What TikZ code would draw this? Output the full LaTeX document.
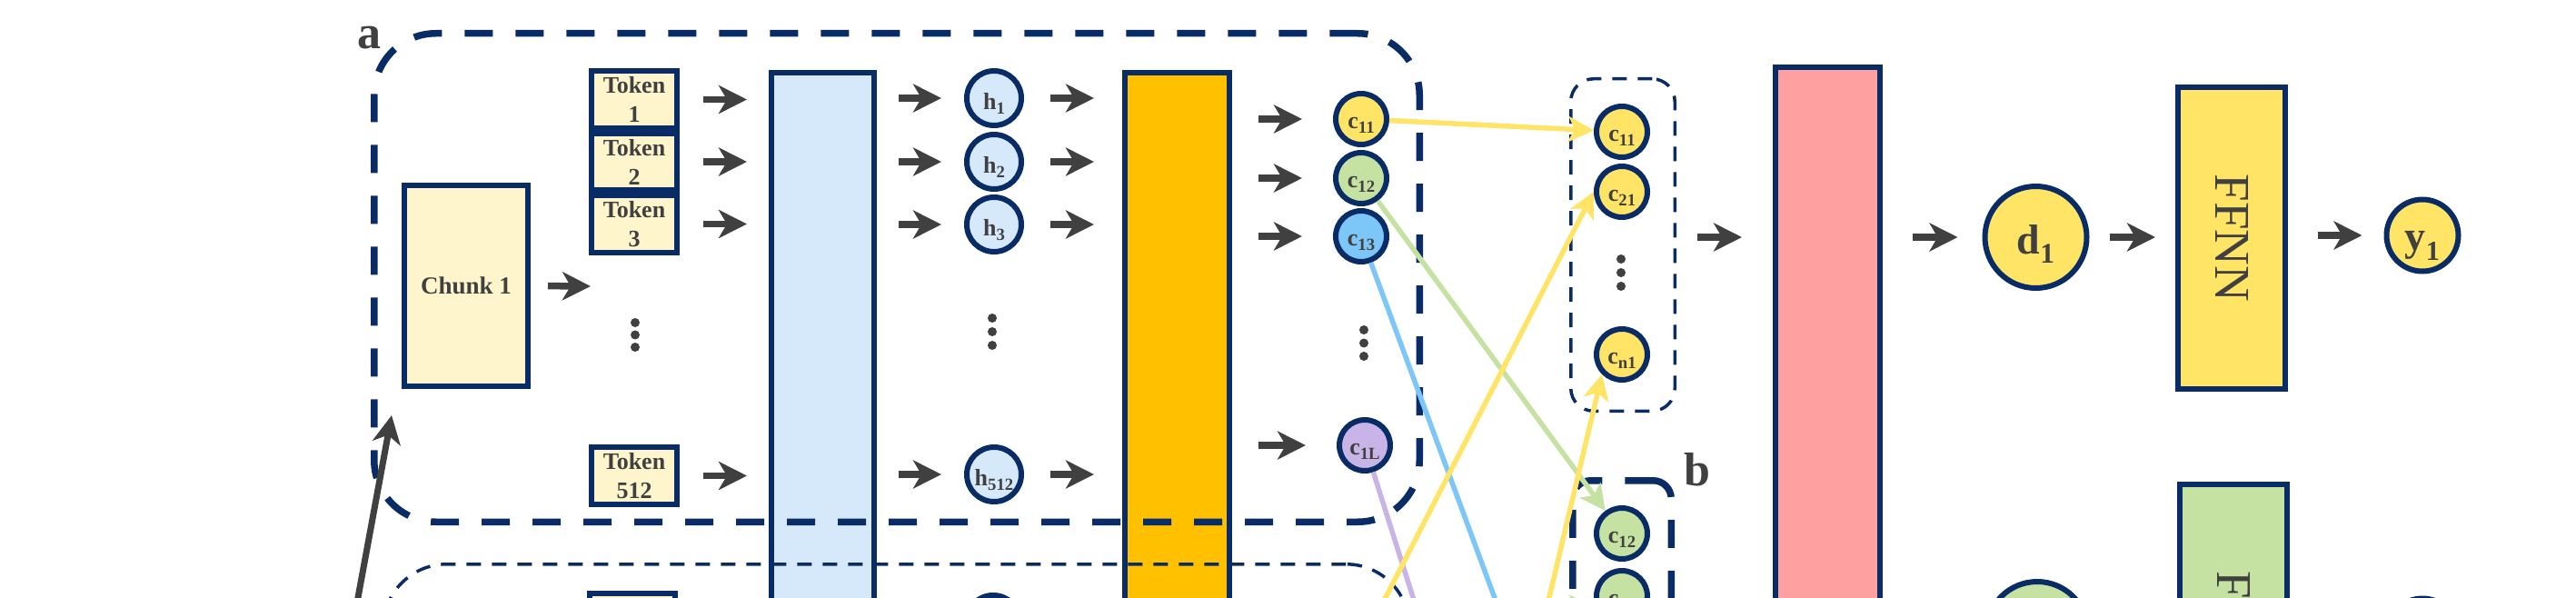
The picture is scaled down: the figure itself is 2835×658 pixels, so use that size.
\documentclass[tikz,border=0pt]{standalone}
\usepackage{fontspec}
\usepackage{graphicx}
\setmainfont{Liberation Serif}
\usetikzlibrary{arrows.meta}
\definecolor{navy}{HTML}{0A2C66}
\definecolor{txt}{HTML}{404040}
\definecolor{tokfill}{HTML}{FFF5CC}
\definecolor{hblue}{HTML}{D5E9FB}
\definecolor{orng}{HTML}{FFC000}
\definecolor{pnk}{HTML}{FFA0A0}
\definecolor{yel}{HTML}{FFE466}
\definecolor{grn}{HTML}{C6E2A2}
\definecolor{cblu}{HTML}{7DC6F8}
\definecolor{lav}{HTML}{C8B4E6}
\newcommand{\sbb}[3]{\raisebox{-#2}{\scalebox{#1}{#3}}}
\begin{document}
\begin{tikzpicture}[x=1pt,y=-1pt,
  bord/.style={draw=navy, line width=6pt},
  tokbox/.style={bord, fill=tokfill, minimum width=94pt, minimum height=62.5pt, inner sep=0pt, align=center, font=\bfseries\fontsize{26}{32}\selectfont, text=txt},
  barbox/.style={bord, anchor=north, minimum height=1300pt, inner sep=0pt},
  hc/.style={bord, circle, fill=hblue, minimum size=60pt, inner sep=0pt, font=\bfseries\fontsize{26}{30}\selectfont, text=txt, text height=25pt, text depth=0pt},
  cc/.style={bord, circle, minimum size=56pt, inner sep=0pt, font=\bfseries\fontsize{26}{30}\selectfont, text=txt, text height=21pt, text depth=0pt},
  garrow/.style={draw=txt, line width=7.5pt, -{Stealth[length=31pt,width=31pt,inset=9pt]}},
  carrow/.style={line width=5.5pt, -{Stealth[length=28pt,width=28pt,inset=7pt]}},
  cline/.style={line width=5.5pt},
  thickdash/.style={draw=navy, line width=7.5pt, dash pattern=on 31pt off 25pt, inner sep=0pt},
  thindash/.style={draw=navy, line width=3.5pt, dash pattern=on 16pt off 12pt, inner sep=0pt},
  lbl/.style={font=\bfseries\fontsize{52}{52}\selectfont, text=txt, inner sep=0pt},
  ffnn/.style={bord, minimum width=118pt, minimum height=332pt, inner sep=0pt, font=\fontsize{55}{60}\selectfont, text=txt}
]
\useasboundingbox (0,0) rectangle (2835,658);
\clip (0,0) rectangle (2835,658);

% bars
\node[barbox, fill=hblue, minimum width=113pt] (blue) at (905.5,77) {};
\node[barbox, fill=orng, minimum width=115pt] (orange) at (1295.5,77) {};
\node[barbox, fill=pnk, minimum width=115pt] (pink) at (2011.5,71) {};

% dashed group boxes
\node[thickdash, rounded corners=68pt, minimum width=1150.5pt, minimum height=537.5pt] (boxa) at (987,305.5) {};
\node[thindash, rounded corners=70pt, minimum width=1129.5pt, minimum height=577.5pt] (boxa2) at (986.5,909.5) {};
\node[thindash, rounded corners=25pt, minimum width=114.5pt, minimum height=365.5pt] (col2) at (1786,269.5) {};
\node[thickdash, rounded corners=20pt, minimum width=108.5pt, minimum height=567.5pt] (boxb) at (1785,812.5) {};

\node[lbl] (la) at (406,42) {a};
\node[lbl] (lb) at (1868,517) {b};

% chunk and tokens
\node[bord, fill=tokfill, minimum width=136pt, minimum height=221pt, inner sep=0pt, font=\bfseries\fontsize{27}{30}\selectfont, text=txt] (chunk) at (513,314.5) {Chunk 1};
\node[tokbox] (t1) at (698,109.5) {Token\\1};
\node[tokbox] (t2) at (698,178) {Token\\2};
\node[tokbox] (t3) at (698,246.5) {Token\\3};
\node[tokbox] (t4) at (698,523.5) {Token\\512};
\node[tokbox] (t5) at (695.5,684) {};
\fill[txt] (699,355) circle (5pt) (699,368.5) circle (5pt) (699,382) circle (5pt);

% h circles
\node[hc] (h1) at (1094,108) {h\sbb{0.72}{0.2em}{1}};
\node[hc] (h2) at (1094,178) {h\sbb{0.72}{0.2em}{2}};
\node[hc] (h3) at (1094,247) {h\sbb{0.72}{0.2em}{3}};
\node[hc] (h4) at (1094,522) {h\sbb{0.72}{0.2em}{512}};
\node[hc] (h5) at (1093,685) {};
\fill[txt] (1092,350) circle (5pt) (1092,365) circle (5pt) (1092,380) circle (5pt);

% c column 1
\node[cc, fill=yel] (c11) at (1498,131) {c\sbb{0.72}{0.2em}{11}};
\node[cc, fill=grn] (c12) at (1498,196) {c\sbb{0.72}{0.2em}{12}};
\node[cc, fill=cblu] (c13) at (1498,260) {c\sbb{0.72}{0.2em}{13}};
\node[cc, fill=lav] (c1L) at (1502,490) {c\sbb{0.72}{0.2em}{1L}};
\fill[txt] (1501,363) circle (5pt) (1501,377.5) circle (5pt) (1501,392) circle (5pt);

% c column 2
\node[cc, fill=yel] (c11b) at (1785,145) {c\sbb{0.72}{0.2em}{11}};
\node[cc, fill=yel] (c21b) at (1785,211) {c\sbb{0.72}{0.2em}{21}};
\node[cc, fill=yel] (cn1b) at (1785,390) {c\sbb{0.72}{0.2em}{n1}};
\fill[txt] (1784,285) circle (5pt) (1784,300) circle (5pt) (1784,315) circle (5pt);
\node[cc, fill=grn] (c12b) at (1785,587) {c\sbb{0.72}{0.2em}{12}};
\node[cc, fill=grn] (c22b) at (1785,656) {c\sbb{0.72}{0.2em}{22}};

% right part
\node[bord, circle, fill=yel, minimum size=112pt, inner sep=0pt, font=\bfseries\fontsize{46}{50}\selectfont, text=txt, text height=36pt, text depth=0pt] (d1) at (2240.5,261) {d\sbb{0.68}{0.23em}{1}};
\node[bord, circle, fill=grn, minimum size=112pt, inner sep=0pt] (d2) at (2242,696) {};
\node[ffnn, fill=yel] (f1) at (2456,262) {\rotatebox{-90}{FFNN}};
\node[ffnn, fill=grn] (f2) at (2458,699) {\rotatebox{-90}{FFNN}};
\node[bord, circle, fill=yel, minimum size=79pt, inner sep=0pt, font=\bfseries\fontsize{46}{50}\selectfont, text=txt, text height=32pt, text depth=0pt] (y1) at (2666,259) {y\sbb{0.66}{0.25em}{1}};
\node[bord, circle, fill=grn, minimum size=79pt, inner sep=0pt] (y2) at (2666,698) {};

% gray arrows
\coordinate (chk) at (650,315);
\draw[garrow, shorten <=19pt] (chunk.east) -- (chk);
\foreach \t in {t1,t2,t3,t4}{
  \draw[garrow, shorten <=26pt, shorten >=24pt] (\t.east) -- (\t.east -| blue.west);
}
\foreach \h in {h1,h2,h3,h4}{
  \draw[garrow, shorten <=24pt, shorten >=25pt] (\h.west -| blue.east) -- (\h.west);
  \draw[garrow, shorten <=29pt, shorten >=31pt] (\h.east) -- (\h.east -| orange.west);
}
\foreach \c in {c11,c12,c13,c1L}{
  \draw[garrow, shorten <=29pt, shorten >=34pt] (\c.west -| orange.east) -- (\c.west);
}
\draw[garrow, shorten <=23pt, shorten >=34pt] (col2.east |- d1.west) -- (pink.west |- d1.west);
\draw[garrow, shorten <=33pt, shorten >=27pt] (d1.west -| pink.east) -- (d1.west);
\draw[garrow, shorten <=22pt, shorten >=22pt] (d1.east) -- (d1.east -| f1.west);
\draw[garrow, shorten <=33pt, shorten >=24pt] (f1.east |- y1.west) -- (y1.west);
\coordinate (ga1) at (388,690);
\coordinate (ga2) at (431,457);
\draw[garrow, line width=7pt] (ga1) -- (ga2);

% coloured connectors
\coordinate (c13e) at (1690,780);
\coordinate (c1Le) at (1594,780);
\coordinate (ys1) at (1462,780);
\coordinate (ys2) at (1676,780);
\coordinate (gs2) at (1450,690);
\draw[cline, draw=cblu] (c13) -- (c13e);
\draw[cline, draw=lav] (c1L) -- (c1Le);
\draw[carrow, draw=yel] (c11) -- (c11b);
\draw[carrow, draw=grn] (c12) -- (c12b);
\draw[carrow, draw=yel] (ys1) -- (c21b.west);
\draw[carrow, draw=yel] (ys2) -- (cn1b.225);
\draw[carrow, draw=grn] (gs2) -- (c22b.200);
\end{tikzpicture}
\end{document}
